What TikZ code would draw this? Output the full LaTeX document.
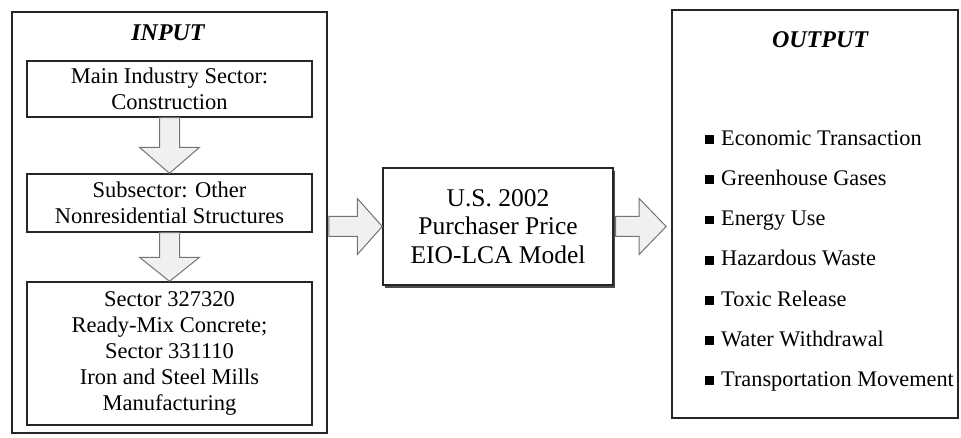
\documentclass[tikz,border=0pt]{standalone}
\usepackage{fontspec}
\setmainfont{Liberation Serif}
\usetikzlibrary{calc,shadows}
\begin{document}
\begin{tikzpicture}[x=1pt,y=-1pt,
  outerbox/.style={draw=black!85,line width=1.7pt,fill=none},
  innerbox/.style={draw=black!85,line width=1.4pt,inner sep=0pt,align=center,font=\fontsize{22.5}{25.5}\selectfont},
  titletext/.style={inner sep=0pt,font=\fontsize{24}{28}\selectfont\bfseries\itshape},
  midbox/.style={draw=black!85,line width=1.4pt,fill=white,inner sep=0pt,align=center,
     font=\fontsize{25.5}{28.5}\selectfont,
     drop shadow={shadow xshift=2pt,shadow yshift=-3pt,fill=black!70,opacity=1}},
  barrow/.style={draw=black!55,line width=1pt,fill=black!6,line join=miter},
  item/.style={anchor=base west,inner sep=0pt,font=\fontsize{22.3}{24}\selectfont}
]
\useasboundingbox (0,0) rectangle (961,438);
% outer boxes
\node[outerbox,minimum width=315pt,minimum height=421pt,inner sep=0pt] (in) at (169.5,222.5) {};
\node[outerbox,minimum width=286pt,minimum height=408pt,inner sep=0pt] (out) at (815,214) {};
\node[titletext] (intitle) at (168,33) {INPUT};
\node[titletext] (outtitle) at (820,40) {OUTPUT};
% input boxes
\node[innerbox,minimum width=285pt,minimum height=56pt] (b1) at (169.5,89) {Main Industry Sector:\\Construction};
\node[innerbox,minimum width=285pt,minimum height=58pt] (b2) at (169.5,203) {Subsector: Other\\Nonresidential Structures};
\node[innerbox,minimum width=285pt,minimum height=143pt,font=\fontsize{22.5}{26}\selectfont] (b3) at (169.5,353.5)
  {Sector 327320\\Ready-Mix Concrete;\\Sector 331110\\Iron and Steel Mills\\Manufacturing};
% middle box
\node[midbox,minimum width=230pt,minimum height=117pt] (mid) at (498,226.5) {U.S. 2002\\Purchaser Price\\EIO-LCA Model};
% down arrows
\draw[barrow] let \p1=(b1.south), \p2=(b2.north) in
  (\x1-10pt,\y1) -- (\x1-10pt,\y2+26pt) -- (\x1-30pt,\y2+26pt) -- (\x1,\y2) --
  (\x1+30pt,\y2+26pt) -- (\x1+10pt,\y2+26pt) -- (\x1+10pt,\y1) -- cycle;
\draw[barrow] let \p1=(b2.south), \p2=(b3.north) in
  (\x1-10pt,\y1) -- (\x1-10pt,\y2+24pt) -- (\x1-30pt,\y2+24pt) -- (\x1,\y2) --
  (\x1+30pt,\y2+24pt) -- (\x1+10pt,\y2+24pt) -- (\x1+10pt,\y1) -- cycle;
% right arrows
\draw[barrow] let \p1=(in.east), \p2=(mid.west) in
  (\x1+1pt,\y2+10pt) -- (\x2-25pt,\y2+10pt) -- (\x2-25pt,\y2+28pt) -- (\x2,\y2) --
  (\x2-25pt,\y2-28pt) -- (\x2-25pt,\y2-10pt) -- (\x1+1pt,\y2-10pt) -- cycle;
\draw[barrow] let \p1=(mid.east), \p2=(out.west) in
  (\x1+2pt,\y1+10pt) -- (\x2-32pt,\y1+10pt) -- (\x2-32pt,\y1+28pt) -- (\x2-5pt,\y1) --
  (\x2-32pt,\y1-28pt) -- (\x2-32pt,\y1-10pt) -- (\x1+2pt,\y1-10pt) -- cycle;
% output items
\newcommand{\sqbul}{\raisebox{1.5pt}{\rule{9pt}{9pt}}\hspace{7pt}}
\node[item] (o1) at (705,146) {\sqbul Economic Transaction};
\node[item] (o2) at (705,186) {\sqbul Greenhouse Gases};
\node[item] (o3) at (705,226) {\sqbul Energy Use};
\node[item] (o4) at (705,266) {\sqbul Hazardous Waste};
\node[item] (o5) at (705,306) {\sqbul Toxic Release};
\node[item] (o6) at (705,346) {\sqbul Water Withdrawal};
\node[item] (o7) at (705,386) {\sqbul Transportation Movement};
\end{tikzpicture}
\end{document}
